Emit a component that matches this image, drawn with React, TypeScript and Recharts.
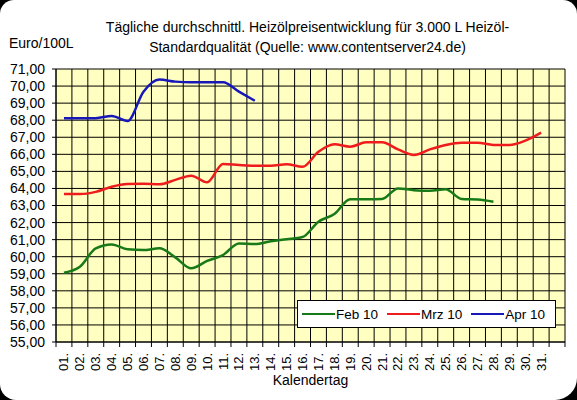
import React from 'react';
import { LineChart, Line, XAxis, YAxis, CartesianGrid, Legend } from 'recharts';

const dayValues = [1, 2, 3, 4, 5, 6, 7, 8, 9, 10, 11, 12, 13, 14, 15, 16, 17, 18, 19, 20, 21, 22, 23, 24, 25, 26, 27, 28, 29, 30, 31];
const dayLabels = ['01.', '02.', '03.', '04.', '05.', '06.', '07.', '08.', '09.', '10.', '11.', '12.', '13.', '14.', '15.', '16.', '17.', '18.', '19.', '20.', '21.', '22.', '23.', '24.', '25.', '26.', '27.', '28.', '29.', '30.', '31.'];

const feb10 = [59.06, 59.41, 60.49, 60.72, 60.43, 60.39, 60.49, 59.96, 59.32, 59.75, 60.1, 60.78, 60.74, 60.9, 61.02, 61.15, 62.05, 62.5, 63.36, 63.36, 63.38, 64.0, 63.9, 63.87, 63.95, 63.38, 63.35, 63.22];
const mrz10 = [63.67, 63.67, 63.8, 64.1, 64.26, 64.28, 64.24, 64.5, 64.75, 64.36, 65.43, 65.37, 65.33, 65.33, 65.42, 65.27, 66.15, 66.59, 66.45, 66.7, 66.7, 66.29, 65.96, 66.29, 66.55, 66.68, 66.68, 66.55, 66.55, 66.8, 67.27];
const apr10 = [68.12, 68.12, 68.12, 68.25, 67.95, 69.67, 70.38, 70.26, 70.22, 70.22, 70.22, 69.67, 69.14];

const seriesNames = ['Feb 10', 'Mrz 10', 'Apr 10'];
const yTicks = [55, 56, 57, 58, 59, 60, 61, 62, 63, 64, 65, 66, 67, 68, 69, 70, 71];
// cell boundaries between calendar days (32 cells: 31 days + one empty)
const cellBoundaries = [0.5, 1.5, 2.5, 3.5, 4.5, 5.5, 6.5, 7.5, 8.5, 9.5, 10.5, 11.5, 12.5, 13.5, 14.5, 15.5, 16.5, 17.5, 18.5, 19.5, 20.5, 21.5, 22.5, 23.5, 24.5, 25.5, 26.5, 27.5, 28.5, 29.5, 30.5, 31.5, 32.5];

const titleLines = ['Tägliche durchschnittl. Heizölpreisentwicklung für 3.000 L Heizöl-', 'Standardqualität (Quelle: www.contentserver24.de)'];
const yUnit = 'Euro/100L';
const xTitle = 'Kalendertag';

const data = dayValues.map((d, i) => ({
  day: d,
  feb: feb10[i],
  mrz: mrz10[i],
  apr: apr10[i],
}));

const xTicks = [...cellBoundaries, ...dayValues].sort((a, b) => a - b);

const FONT = '"Liberation Sans", Arial, sans-serif';
const COLORS = { feb: '#177a17', mrz: '#ee1c1c', apr: '#1818b8' };

const DayTick = (props: any) => {
  const { x, y, payload } = props;
  const v = payload.value;
  const idx = dayValues.indexOf(v);
  if (idx >= 0) {
    const ty = y + 11;
    return (
      <text
        x={x}
        y={ty}
        transform={`rotate(-90 ${x} ${ty})`}
        textAnchor="end"
        dominantBaseline="central"
        fontSize={13}
        fontFamily={FONT}
        fill="#000"
      >
        {dayLabels[idx]}
      </text>
    );
  }
  return <line x1={x} x2={x} y1={y} y2={y + 5} stroke="#000" strokeWidth={1} />;
};

const renderLegend = (props: any) => {
  const payload = [...(props.payload || [])].sort(
    (a: any, b: any) => seriesNames.indexOf(a.value) - seriesNames.indexOf(b.value)
  );
  return (
    <div
      style={{
        display: 'flex',
        alignItems: 'center',
        height: '100%',
        boxSizing: 'border-box',
        border: '1px solid #000',
        background: '#fff',
        paddingLeft: 4,
        fontFamily: FONT,
        fontSize: 13.5,
        color: '#000',
      }}
    >
      {payload.map((p: any) => (
        <div key={p.value} style={{ display: 'flex', alignItems: 'center', marginRight: 9 }}>
          <span style={{ display: 'inline-block', width: 33, height: 2, background: p.color, marginRight: 1 }} />
          <span>{p.value}</span>
        </div>
      ))}
    </div>
  );
};

export default function App() {
  return (
    <div style={{ position: 'absolute', left: 0, top: 0, width: 577, height: 400, background: '#000' }}>
      <div
        style={{
          position: 'absolute',
          left: 0,
          top: 0,
          width: 577,
          height: 400,
          background: '#fff',
          borderRadius: '14px 14px 22px 16px',
        }}
      />
      <div
        style={{
          position: 'absolute',
          left: 0,
          top: 17,
          width: 615,
          textAlign: 'center',
          fontFamily: FONT,
          fontSize: 14,
          lineHeight: '20px',
          color: '#000',
        }}
      >
        {titleLines[0]}
        <br />
        {titleLines[1]}
      </div>
      <div
        style={{
          position: 'absolute',
          left: 9,
          top: 35,
          fontFamily: FONT,
          fontSize: 14,
          color: '#000',
        }}
      >
        {yUnit}
      </div>
      <div style={{ position: 'absolute', left: 0, top: 0 }}>
        <LineChart width={577} height={400} data={data} margin={{ top: 69, right: 12, bottom: 0, left: 0 }}>
          <CartesianGrid
            stroke="#000"
            strokeWidth={1}
            fill="#ffffc2"
            fillOpacity={1}
            verticalValues={cellBoundaries}
          />
          <XAxis
            dataKey="day"
            type="number"
            domain={[0.5, 32.5]}
            ticks={xTicks}
            interval={0}
            height={58}
            tickSize={0}
            tickMargin={0}
            tickLine={false}
            axisLine={{ stroke: '#000', strokeWidth: 1 }}
            tick={<DayTick />}
            label={{ value: xTitle, position: 'insideBottom', offset: 15, fill: '#000', fontSize: 14, fontFamily: FONT }}
          />
          <YAxis
            type="number"
            domain={[55, 71]}
            ticks={yTicks}
            interval={0}
            width={56}
            tickSize={4}
            tickMargin={7}
            tickLine={{ stroke: '#000' }}
            axisLine={{ stroke: '#000', strokeWidth: 1 }}
            tick={{ fill: '#000', fontSize: 14, fontFamily: FONT }}
            tickFormatter={(v: number) => v.toFixed(2).replace('.', ',')}
          />
          <Legend
            layout="horizontal"
            verticalAlign="middle"
            align="center"
            content={renderLegend}
            wrapperStyle={{ position: 'absolute', left: 297, top: 300, width: 259, height: 28 }}
          />
          <Line
            name={seriesNames[0]}
            dataKey="feb"
            type="monotone"
            stroke={COLORS.feb}
            strokeWidth={2.5}
            dot={false}
            activeDot={false}
            isAnimationActive={false}
          />
          <Line
            name={seriesNames[1]}
            dataKey="mrz"
            type="monotone"
            stroke={COLORS.mrz}
            strokeWidth={2.5}
            dot={false}
            activeDot={false}
            isAnimationActive={false}
          />
          <Line
            name={seriesNames[2]}
            dataKey="apr"
            type="monotone"
            stroke={COLORS.apr}
            strokeWidth={2.5}
            dot={false}
            activeDot={false}
            isAnimationActive={false}
          />
        </LineChart>
      </div>
    </div>
  );
}
